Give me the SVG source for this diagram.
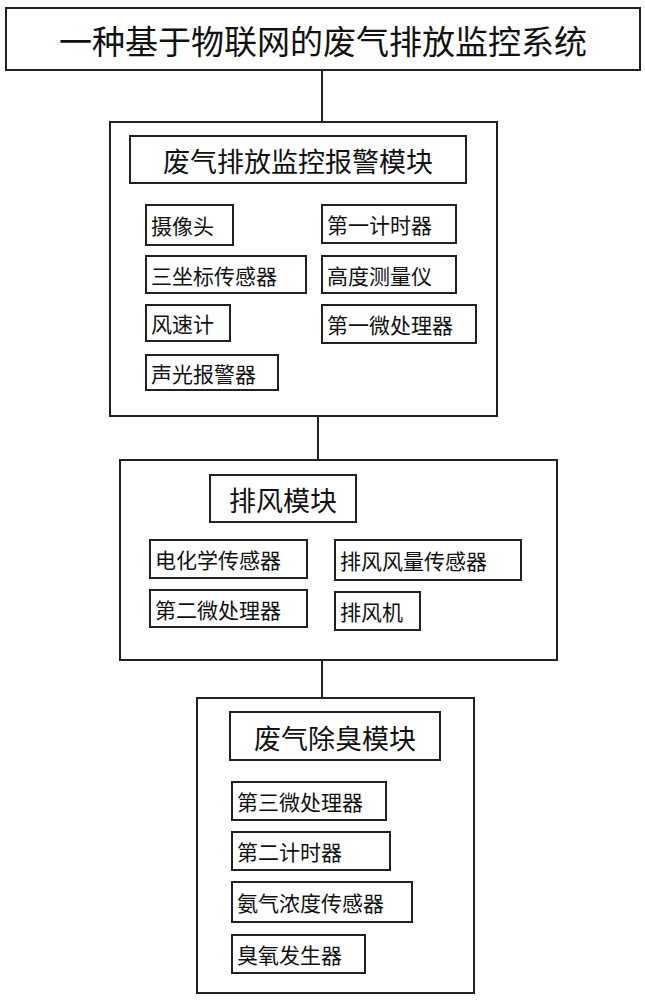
<svg xmlns="http://www.w3.org/2000/svg" width="645" height="1000" viewBox="0 0 645 1000">
<style>
rect{fill:#fff;stroke:#222;stroke-width:2}
text{font-family:"Noto Sans CJK SC",sans-serif;fill:#111;dominant-baseline:central}
.t{font-size:33px}.h{font-size:27px}.i{font-size:21px}
line{stroke:#222;stroke-width:2}
</style>
<rect width="645" height="1000" style="stroke:none"/>
<g id="connectors">
<line x1="322" y1="70" x2="322" y2="122"/>
<line x1="318" y1="416" x2="318" y2="460"/>
<line x1="322" y1="660" x2="322" y2="698"/>
</g>
<g id="title"><rect x="6" y="8" width="634" height="62"/><text class="t" x="323" y="40" text-anchor="middle">一种基于物联网的废气排放监控系统</text></g>
<g id="m1">
<rect x="110" y="122" width="387" height="294"/>
<rect x="130" y="136" width="336" height="47"/><text class="h" x="298" y="160" text-anchor="middle">废气排放监控报警模块</text>
<rect x="146" y="205" width="87" height="40"/><text class="i" x="151" y="225">摄像头</text>
<rect x="322" y="205" width="134" height="38"/><text class="i" x="327" y="224">第一计时器</text>
<rect x="146" y="256" width="160" height="37"/><text class="i" x="151" y="275">三坐标传感器</text>
<rect x="322" y="256" width="134" height="37"/><text class="i" x="327" y="275">高度测量仪</text>
<rect x="146" y="305" width="84" height="36"/><text class="i" x="151" y="323">风速计</text>
<rect x="322" y="305" width="154" height="38"/><text class="i" x="327" y="324">第一微处理器</text>
<rect x="146" y="355" width="132" height="35"/><text class="i" x="151" y="373">声光报警器</text>
</g>
<g id="m2">
<rect x="120" y="460" width="437" height="200"/>
<rect x="210" y="475" width="146" height="47"/><text class="h" x="283" y="499" text-anchor="middle">排风模块</text>
<rect x="150" y="540" width="157" height="38"/><text class="i" x="155" y="559">电化学传感器</text>
<rect x="335" y="540" width="186" height="40"/><text class="i" x="340" y="560">排风风量传感器</text>
<rect x="150" y="590" width="157" height="37"/><text class="i" x="155" y="609">第二微处理器</text>
<rect x="335" y="592" width="85" height="38"/><text class="i" x="340" y="611">排风机</text>
</g>
<g id="m3">
<rect x="197" y="698" width="277" height="295"/>
<rect x="230" y="712" width="210" height="48"/><text class="h" x="335" y="737" text-anchor="middle">废气除臭模块</text>
<rect x="232" y="782" width="154" height="38"/><text class="i" x="237" y="801">第三微处理器</text>
<rect x="232" y="832" width="158" height="38"/><text class="i" x="237" y="851">第二计时器</text>
<rect x="232" y="882" width="180" height="40"/><text class="i" x="237" y="902">氨气浓度传感器</text>
<rect x="232" y="935" width="133" height="38"/><text class="i" x="237" y="954">臭氧发生器</text>
</g>
</svg>
